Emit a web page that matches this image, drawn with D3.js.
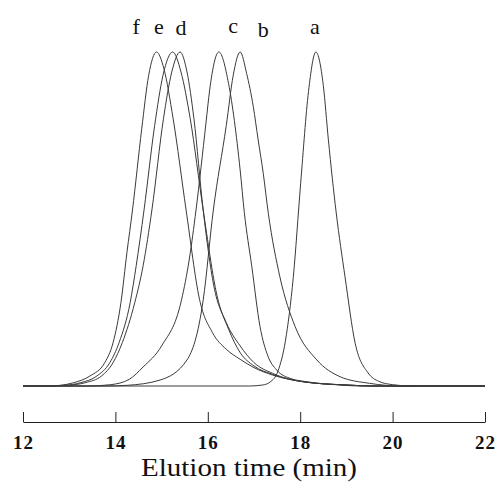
<!DOCTYPE html>
<html>
<head>
<meta charset="utf-8">
<script src="https://cdn.jsdelivr.net/npm/d3@7"></script>
<style>
  body { margin: 0; background: #fff; }
  svg { display: block; }
</style>
</head>
<body>
<script>
// elution profiles, [time (min), normalised signal]
// prettier-ignore
const curveF = [[12,0],[12.5,0],[12.8,0.002],[13.1,0.01],[13.45,0.03],[13.77,0.07],[13.95,0.13],[14.12,0.25],[14.25,0.4],[14.37,0.527],[14.57,0.77],[14.72,0.93],[14.89,1],[15.05,0.95],[15.25,0.8],[15.53,0.527],[15.82,0.26],[16.1,0.16],[16.4,0.11],[16.7,0.08],[17,0.055],[17.4,0.033],[18.1,0.012],[19,0.003],[19.6,0],[22,0]];
// prettier-ignore
const curveE = [[12,0],[12.5,0],[12.9,0.002],[13.25,0.01],[13.6,0.03],[13.88,0.07],[14.08,0.13],[14.32,0.25],[14.45,0.36],[14.62,0.527],[14.85,0.78],[15.03,0.93],[15.24,1],[15.42,0.94],[15.62,0.8],[15.9,0.527],[16.2,0.27],[16.45,0.17],[16.7,0.1],[17,0.06],[17.4,0.035],[18.1,0.012],[19,0.003],[19.6,0],[22,0]];
// prettier-ignore
const curveD = [[12,0],[12.55,0],[12.95,0.002],[13.35,0.01],[13.7,0.03],[13.95,0.07],[14.15,0.13],[14.42,0.25],[14.6,0.36],[14.79,0.527],[15.04,0.8],[15.22,0.94],[15.4,1],[15.55,0.94],[15.7,0.8],[15.9,0.527],[16.13,0.3],[16.4,0.19],[16.7,0.12],[17,0.07],[17.4,0.038],[18.1,0.012],[19,0.003],[19.6,0],[22,0]];
// prettier-ignore
const curveC = [[12,0],[13.4,0],[13.9,0.004],[14.3,0.02],[14.6,0.057],[15,0.12],[15.43,0.257],[15.6,0.38],[15.745,0.527],[15.96,0.787],[16.04,0.886],[16.24,1],[16.45,0.905],[16.7,0.647],[16.79,0.52],[16.95,0.36],[17.13,0.178],[17.3,0.09],[17.49,0.048],[17.8,0.022],[18.13,0.013],[18.86,0.003],[19.3,0],[22,0]];
// prettier-ignore
const curveB = [[12,0],[13.8,0],[14.25,0.002],[14.97,0.018],[15.55,0.078],[15.9,0.257],[16.12,0.527],[16.4,0.78],[16.55,0.93],[16.7,1],[16.84,0.936],[16.985,0.836],[17.09,0.737],[17.2,0.637],[17.31,0.517],[17.56,0.327],[17.89,0.178],[18.36,0.078],[18.86,0.028],[19.5,0.008],[20.2,0],[22,0]];
// prettier-ignore
const curveA = [[12,0],[16.9,0],[17.19,0.003],[17.35,0.012],[17.52,0.045],[17.68,0.135],[17.85,0.325],[18.01,0.607],[18.18,0.882],[18.34,1],[18.5,0.9],[18.61,0.737],[18.78,0.518],[18.97,0.327],[19.19,0.128],[19.47,0.039],[19.7,0.014],[20,0.004],[20.4,0],[22,0]];

const curves = [curveF, curveE, curveD, curveC, curveB, curveA];

const peakLabels = ["f", "e", "d", "c", "b", "a"];
const labelTimes = [14.45, 14.94, 15.42, 16.55, 17.2, 18.32];
const labelHeights = [1.055, 1.055, 1.05, 1.057, 1.044, 1.055];

const xTicks = [12, 14, 16, 18, 20, 22];
const xTitle = "Elution time (min)";

const width = 497;
const height = 491;
const serif = '"Times New Roman", "Liberation Serif", serif';

const x = d3.scaleLinear().domain([12, 22]).range([23, 485]);
const y = d3.scaleLinear().domain([0, 1]).range([386, 52]);

const svg = d3
  .select("body")
  .append("svg")
  .attr("width", width)
  .attr("height", height);

const line = d3
  .line()
  .x((d) => x(d[0]))
  .y((d) => y(d[1]))
  .curve(d3.curveMonotoneX);

svg
  .append("g")
  .attr("class", "traces")
  .selectAll("path")
  .data(curves)
  .join("path")
  .attr("d", line)
  .attr("fill", "none")
  .attr("stroke", "#3a3a3a")
  .attr("stroke-width", 1);

svg
  .append("g")
  .attr("class", "peak-labels")
  .selectAll("text")
  .data(peakLabels)
  .join("text")
  .attr("x", (d, i) => x(labelTimes[i]))
  .attr("y", (d, i) => y(labelHeights[i]))
  .attr("text-anchor", "middle")
  .style("font-family", serif)
  .style("font-size", "22px")
  .attr("fill", "#111")
  .text((d) => d);

const xAxis = d3
  .axisBottom(x)
  .tickValues(xTicks)
  .tickSizeInner(-10)
  .tickSizeOuter(0)
  .tickPadding(14)
  .tickFormat(d3.format("d"));

const gx = svg
  .append("g")
  .attr("class", "axis-x")
  .attr("transform", "translate(0 422)")
  .call(xAxis);

gx.select(".domain").attr("stroke", "#222");
gx.selectAll(".tick line").attr("stroke", "#222");
gx.selectAll(".tick text")
  .attr("fill", "#111")
  .style("font-family", serif)
  .style("font-size", "19px")
  .style("font-weight", "bold")
  .style("letter-spacing", "1px");

svg
  .append("text")
  .attr("class", "axis-title")
  .attr("x", 249)
  .attr("y", 476)
  .attr("text-anchor", "middle")
  .attr("textLength", 216)
  .attr("lengthAdjust", "spacingAndGlyphs")
  .style("font-family", serif)
  .style("font-size", "26px")
  .attr("fill", "#111")
  .text(xTitle);
</script>
</body>
</html>
